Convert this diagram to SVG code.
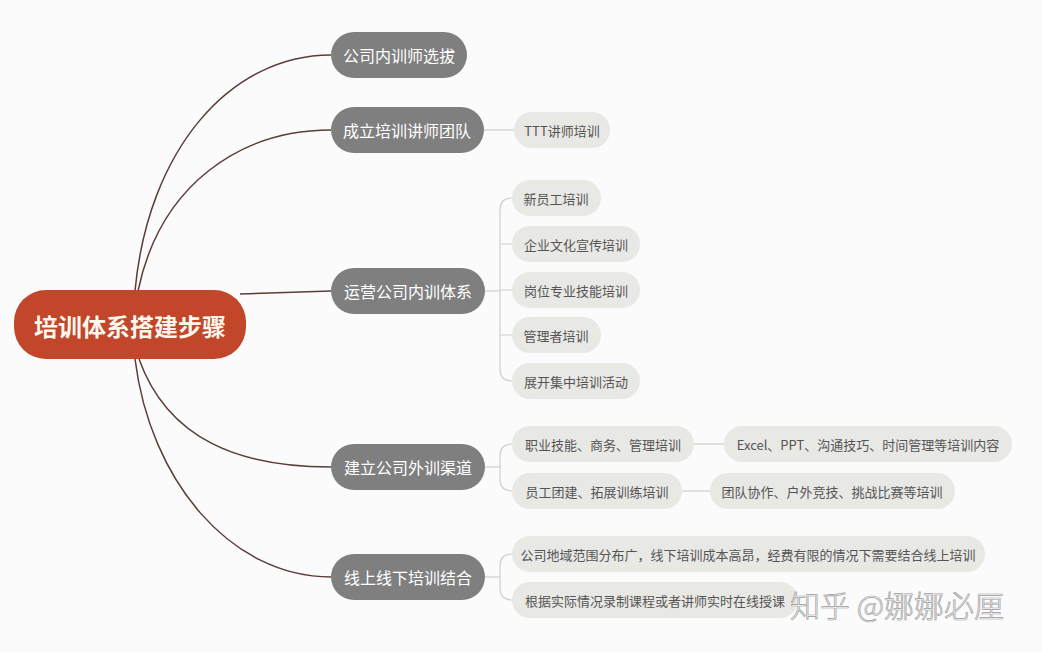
<svg xmlns="http://www.w3.org/2000/svg" width="1042" height="652" viewBox="0 0 1042 652">
<style>
.bg{fill:#fbfbfc}
.root{fill:#c1462a}
.rt{fill:#fff8ef;font-family:"Noto Sans CJK SC",sans-serif;font-size:24px;font-weight:bold;text-anchor:middle;dominant-baseline:central}
.l1{fill:#7f7f7f}
.t1{fill:#ffffff;font-family:"Noto Sans CJK SC",sans-serif;font-size:16px;text-anchor:middle;dominant-baseline:central}
.l2{fill:#e8e8e4}
.t2{fill:#555555;font-family:"Noto Sans CJK SC",sans-serif;font-size:13px;text-anchor:middle;dominant-baseline:central}
.c0{fill:none;stroke:#5b3d38;stroke-width:1.5}
.c1{fill:none;stroke:#cfcfcf;stroke-width:1.2}
.wm{fill:#ffffff;stroke:#9a9a9a;stroke-width:0.7;font-family:"Noto Sans CJK SC",sans-serif;font-size:30px;font-weight:300}
</style>
<rect class="bg" x="0" y="0" width="1042" height="652"/>
<g id="connectors">
<path class="c0" d="M135,291 C148,150 230,55 331,55"/>
<path class="c0" d="M138,291 C160,185 240,130 331,130"/>
<path class="c0" d="M240,294 L331,291"/>
<path class="c0" d="M139,359 C168,440 240,467 331,467"/>
<path class="c0" d="M135,359 C150,480 230,577 331,577"/>
<path class="c1" d="M484,130 L514,130"/>
<path class="c1" d="M485,291 L500,291"/>
<path class="c1" d="M512,198 Q500,198 500,210 L500,369 Q500,381 512,381"/>
<path class="c1" d="M500,244 L512,244 M500,290 L512,290 M500,335 L512,335"/>
<path class="c1" d="M485,467 L500,467"/>
<path class="c1" d="M512,444 Q500,444 500,456 L500,479 Q500,491 512,491"/>
<path class="c1" d="M694,444 L724,444"/>
<path class="c1" d="M682,491 L710,491"/>
<path class="c1" d="M485,577 L500,577"/>
<path class="c1" d="M512,554 Q500,554 500,566 L500,588 Q500,600 512,600"/>
</g>
<g id="root"><rect class="root" x="14" y="290" width="232" height="69" rx="32"/><text class="rt" x="130" y="325">培训体系搭建步骤</text></g>
<g id="n1"><rect class="l1" x="331" y="32" width="136" height="46" rx="23"/><text class="t1" x="399" y="55">公司内训师选拔</text></g>
<g id="n2"><rect class="l1" x="331" y="107" width="153" height="46" rx="23"/><text class="t1" x="407" y="130">成立培训讲师团队</text></g>
<g id="n3"><rect class="l1" x="331" y="268" width="154" height="46" rx="23"/><text class="t1" x="408" y="291">运营公司内训体系</text></g>
<g id="n4"><rect class="l1" x="331" y="444" width="154" height="46" rx="23"/><text class="t1" x="408" y="467">建立公司外训渠道</text></g>
<g id="n5"><rect class="l1" x="331" y="554" width="154" height="46" rx="23"/><text class="t1" x="408" y="577">线上线下培训结合</text></g>
<g id="n2a"><rect class="l2" x="514" y="112" width="96" height="36" rx="18"/><text class="t2" x="562" y="130">TTT讲师培训</text></g>
<g id="n3a"><rect class="l2" x="512" y="180" width="89" height="36" rx="18"/><text class="t2" x="556" y="198">新员工培训</text></g>
<g id="n3b"><rect class="l2" x="512" y="226" width="128" height="36" rx="18"/><text class="t2" x="576" y="244">企业文化宣传培训</text></g>
<g id="n3c"><rect class="l2" x="512" y="272" width="128" height="36" rx="18"/><text class="t2" x="576" y="290">岗位专业技能培训</text></g>
<g id="n3d"><rect class="l2" x="512" y="317" width="89" height="36" rx="18"/><text class="t2" x="556" y="335">管理者培训</text></g>
<g id="n3e"><rect class="l2" x="512" y="363" width="128" height="36" rx="18"/><text class="t2" x="576" y="381">展开集中培训活动</text></g>
<g id="n4a"><rect class="l2" x="512" y="426" width="182" height="36" rx="18"/><text class="t2" x="603" y="444">职业技能、商务、管理培训</text></g>
<g id="n4a1"><rect class="l2" x="724" y="426" width="288" height="36" rx="18"/><text class="t2" x="868" y="444">Excel、PPT、沟通技巧、时间管理等培训内容</text></g>
<g id="n4b"><rect class="l2" x="512" y="473" width="170" height="36" rx="18"/><text class="t2" x="597" y="491">员工团建、拓展训练培训</text></g>
<g id="n4b1"><rect class="l2" x="710" y="473" width="245" height="36" rx="18"/><text class="t2" x="832" y="491">团队协作、户外竞技、挑战比赛等培训</text></g>
<g id="n5a"><rect class="l2" x="512" y="536" width="473" height="36" rx="18"/><text class="t2" x="748" y="554">公司地域范围分布广，线下培训成本高昂，经费有限的情况下需要结合线上培训</text></g>
<g id="n5b"><rect class="l2" x="512" y="582" width="286" height="36" rx="18"/><text class="t2" x="655" y="600">根据实际情况录制课程或者讲师实时在线授课</text></g>
<text class="wm" x="790" y="617">知乎 @娜娜必厘</text>
</svg>
